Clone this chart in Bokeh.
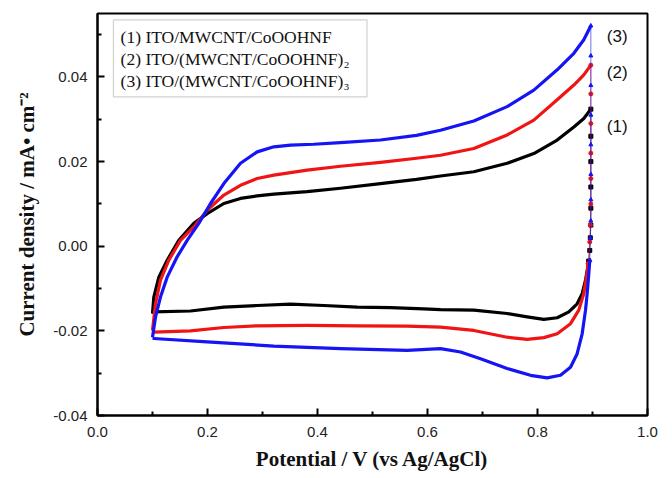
from bokeh.plotting import figure
from bokeh.models import Range1d, FixedTicker, PrintfTickFormatter, BoxAnnotation, Label
from bokeh.embed import file_html
from bokeh.resources import INLINE

# ---- data ----
x_ticks = [0.0, 0.2, 0.4, 0.6, 0.8, 1.0]
x_minor = [0.1, 0.3, 0.5, 0.7, 0.9]
y_ticks = [-0.04, -0.02, 0.00, 0.02, 0.04]
y_minor = [-0.03, -0.01, 0.01, 0.03, 0.05]

legend_texts = ["(1) ITO/MWCNT/CoOOHNF", "(2) ITO/(MWCNT/CoOOHNF)\u2082", "(3) ITO/(MWCNT/CoOOHNF)\u2083"]
curve_tags = ["(1)", "(2)", "(3)"]
tag_y = [0.0282, 0.041, 0.0495]

# curve 1 (black): anodic sweep, reversal at 0.9 V, cathodic sweep
c1_up_x = [0.1, 0.1024, 0.1115, 0.1267, 0.1478, 0.1751, 0.1994, 0.2297, 0.26, 0.29, 0.3206, 0.3812, 0.4418, 0.5145, 0.58, 0.6236, 0.6842, 0.7448, 0.7933, 0.8358, 0.8661, 0.8842, 0.897]
c1_up_y = [-0.0159, -0.012, -0.0073, -0.0033, 0.0014, 0.0054, 0.0077, 0.0101, 0.0113, 0.0119, 0.0123, 0.0129, 0.0137, 0.0148, 0.0158, 0.0166, 0.0176, 0.0196, 0.0219, 0.0251, 0.0282, 0.0302, 0.0324]
c1_dn_x = [0.897, 0.897, 0.897, 0.897, 0.897, 0.897, 0.896, 0.895, 0.893]
c1_dn_y = [0.0324, 0.026, 0.020, 0.014, 0.009, 0.005, 0.002, -0.001, -0.0035]
c1_lo_x = [0.893, 0.8915, 0.8873, 0.8812, 0.8721, 0.857, 0.8358, 0.8115, 0.7812, 0.7448, 0.6842, 0.6236, 0.5933, 0.5327, 0.4721, 0.4115, 0.3509, 0.2903, 0.2297, 0.169, 0.1024, 0.1]
c1_lo_y = [-0.0035, -0.0049, -0.008, -0.0112, -0.0136, -0.0155, -0.0169, -0.0173, -0.0167, -0.0159, -0.0151, -0.015, -0.0148, -0.0145, -0.0144, -0.014, -0.0137, -0.014, -0.0144, -0.0153, -0.0155, -0.0159]

# curve 2 (red)
c2_up_x = [0.1, 0.1055, 0.1145, 0.1297, 0.1509, 0.1782, 0.1994, 0.2297, 0.26, 0.2903, 0.3206, 0.3812, 0.4418, 0.5145, 0.58, 0.6236, 0.6842, 0.7448, 0.7933, 0.8358, 0.8661, 0.8842, 0.897]
c2_up_y = [-0.0199, -0.0136, -0.008, -0.0033, 0.0014, 0.005, 0.0085, 0.0121, 0.0144, 0.016, 0.0168, 0.018, 0.0189, 0.0198, 0.0208, 0.0215, 0.0231, 0.0263, 0.0298, 0.0346, 0.0381, 0.0405, 0.0428]
c2_dn_x = [0.897, 0.897, 0.897, 0.897, 0.897, 0.897, 0.896, 0.895, 0.8921]
c2_dn_y = [0.0428, 0.036, 0.029, 0.022, 0.016, 0.010, 0.005, 0.001, -0.0041]
c2_lo_x = [0.8921, 0.8891, 0.8842, 0.8751, 0.86, 0.8358, 0.8115, 0.7812, 0.7448, 0.6842, 0.6236, 0.563, 0.4721, 0.3812, 0.2903, 0.2297, 0.169, 0.1024, 0.1]
c2_lo_y = [-0.0041, -0.0073, -0.0112, -0.0151, -0.0183, -0.0207, -0.0216, -0.022, -0.0215, -0.0199, -0.0191, -0.0189, -0.0188, -0.0187, -0.0188, -0.0192, -0.02, -0.0203, -0.0203]

# curve 3 (blue)
c3_up_x = [0.1, 0.1055, 0.1145, 0.1267, 0.1448, 0.163, 0.1842, 0.2055, 0.2297, 0.26, 0.2903, 0.3206, 0.3509, 0.3933, 0.4418, 0.5145, 0.58, 0.6236, 0.6842, 0.7448, 0.7933, 0.8358, 0.8661, 0.8842, 0.897]
c3_up_y = [-0.0215, -0.0167, -0.012, -0.0073, -0.0025, 0.0014, 0.0054, 0.0101, 0.0148, 0.0196, 0.0223, 0.0235, 0.0239, 0.0241, 0.0245, 0.0251, 0.0262, 0.0274, 0.0296, 0.033, 0.0369, 0.0417, 0.0456, 0.0488, 0.0521]
c3_dn_x = [0.897, 0.897, 0.897, 0.897, 0.897, 0.897, 0.897, 0.897, 0.896, 0.8951]
c3_dn_y = [0.0521, 0.045, 0.038, 0.031, 0.024, 0.017, 0.011, 0.006, 0.002, -0.0033]
c3_lo_x = [0.8951, 0.8933, 0.8903, 0.8873, 0.8812, 0.8721, 0.86, 0.8418, 0.8176, 0.7873, 0.7448, 0.6964, 0.66, 0.6236, 0.563, 0.4418, 0.3206, 0.1994, 0.1024, 0.1]
c3_lo_y = [-0.0033, -0.0065, -0.0112, -0.0151, -0.0207, -0.0254, -0.0286, -0.0305, -0.0311, -0.0305, -0.0289, -0.0266, -0.025, -0.0242, -0.0246, -0.0242, -0.0236, -0.0226, -0.0218, -0.0218]

colors = ["#000000", "#f01414", "#1414f5"]
markers = ["square", "circle", "triangle"]

p = figure(width=670, height=476, output_backend="svg", toolbar_location=None,
           x_range=Range1d(0, 1), y_range=Range1d(-0.04, 0.055),
           min_border_left=97, min_border_right=23, min_border_top=13, min_border_bottom=61)
p.background_fill_color = "white"
p.border_fill_color = "white"
p.outline_line_color = "black"
p.outline_line_width = 2
p.xgrid.visible = False
p.ygrid.visible = False

for ax, ticks, minor, fmt in [(p.xaxis[0], x_ticks, x_minor, "%.1f"), (p.yaxis[0], y_ticks, y_minor, "%.2f")]:
    ax.ticker = FixedTicker(ticks=ticks, minor_ticks=minor)
    ax.formatter = PrintfTickFormatter(format=fmt)
    ax.axis_line_width = 2
    ax.axis_line_color = "black"
    ax.major_tick_in = 7
    ax.major_tick_out = 0
    ax.minor_tick_in = 4
    ax.minor_tick_out = 0
    ax.major_tick_line_width = 2
    ax.minor_tick_line_width = 2
    ax.major_label_text_font = "Liberation Sans"
    ax.major_label_text_font_size = "15px"
    ax.major_label_text_color = "#222222"
    ax.axis_label_text_font = "Liberation Serif"
    ax.axis_label_text_font_style = "bold"
    ax.axis_label_text_font_size = "21px"
    ax.axis_label_text_color = "#111111"

p.xaxis.axis_label = "Potential / V (vs Ag/AgCl)"
p.yaxis.axis_label = "Current density / mA\u2022 cm\u207b\u00b2"
p.xaxis.major_label_standoff = 11
p.xaxis.axis_label_standoff = 7
p.yaxis.major_label_standoff = 10
p.yaxis.axis_label_standoff = 11

curves = [(c1_up_x, c1_up_y, c1_dn_x, c1_dn_y, c1_lo_x, c1_lo_y),
          (c2_up_x, c2_up_y, c2_dn_x, c2_dn_y, c2_lo_x, c2_lo_y),
          (c3_up_x, c3_up_y, c3_dn_x, c3_dn_y, c3_lo_x, c3_lo_y)]

for (ux, uy, dx, dy, lx, ly), col, mk in zip(curves, colors, markers):
    p.line(ux, uy, line_color=col, line_width=3.2, line_join="round")
    p.line(lx, ly, line_color=col, line_width=3.2, line_join="round")
    p.line(dx, dy, line_color=col, line_width=1, line_alpha=0.6)
    p.scatter(dx, dy, marker=mk, size=4, fill_color=col, line_color=col)

# legend box (text only)
p.add_layout(BoxAnnotation(left=0.029, right=0.49, top=0.0535, bottom=0.0353,
                           fill_color="white", fill_alpha=1.0, line_color="#666666", line_width=1.2))
for i, t in enumerate(legend_texts):
    p.add_layout(Label(x=0.042, y=0.0495 - i * 0.0052, text=t, text_font="Liberation Serif",
                       text_font_size="17.5px", text_baseline="middle", text_color="#111111"))

for t, yv in zip(curve_tags, tag_y):
    p.add_layout(Label(x=0.945, y=yv, text=t, text_font="Liberation Sans", text_font_size="17px",
                       text_baseline="middle", text_align="center", text_color="#111111"))

open("out.html", "w").write(file_html(p, INLINE))
